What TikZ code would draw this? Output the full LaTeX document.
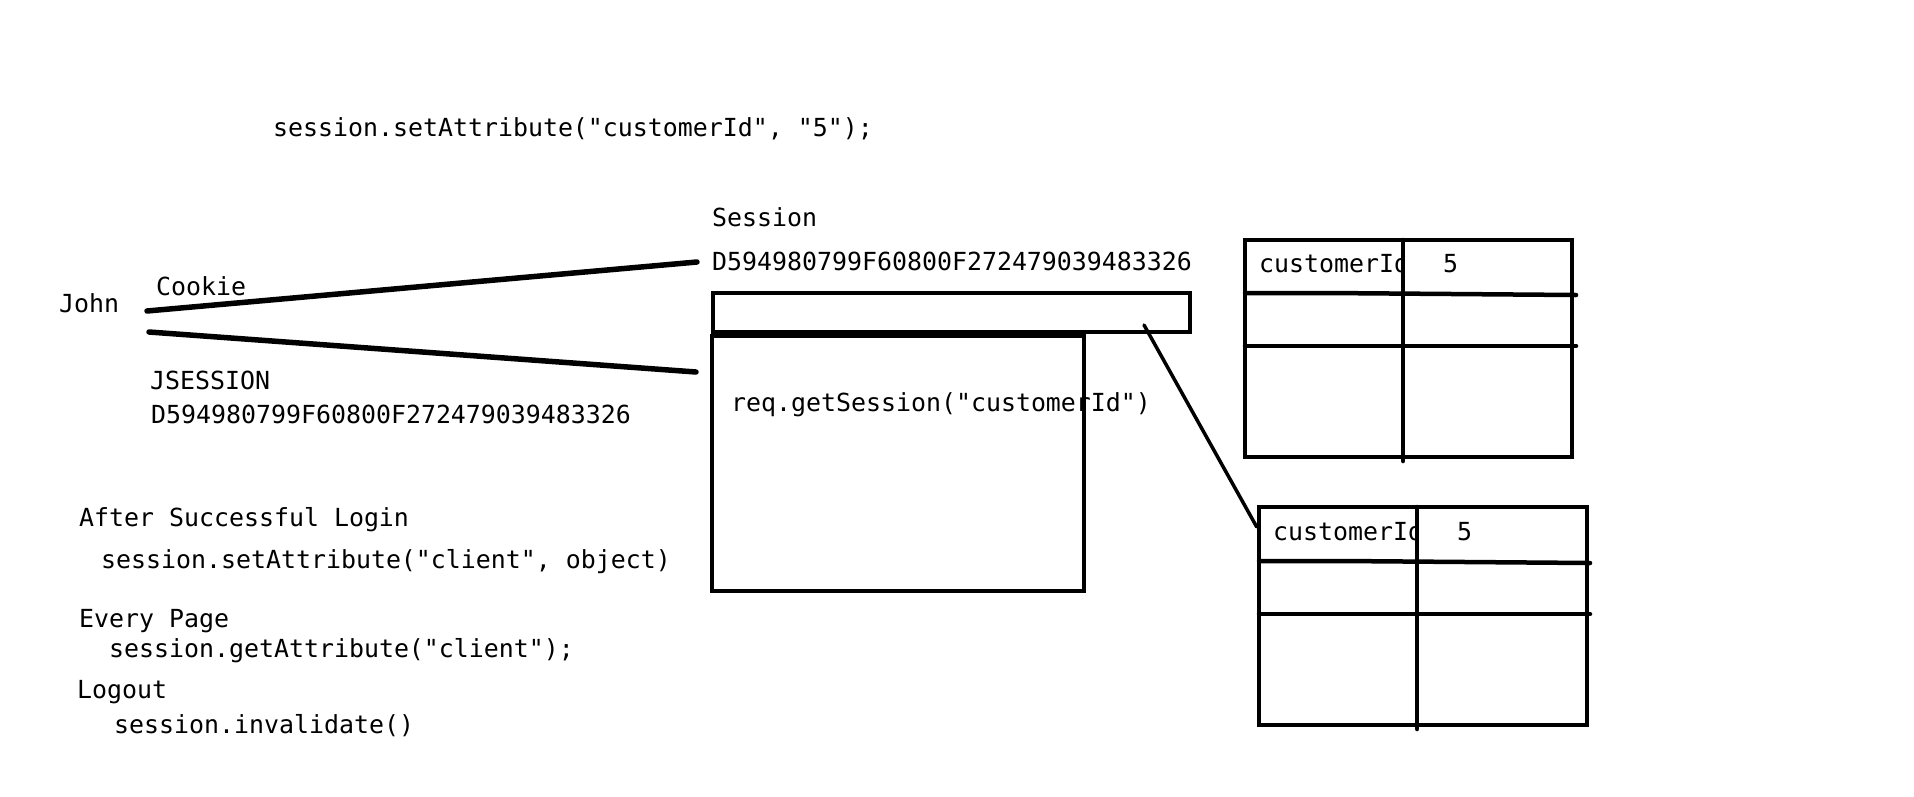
\documentclass[tikz,border=0pt]{standalone}
\usepackage{fontspec}
\setmonofont{DejaVu Sans Mono}
\begin{document}
\begin{tikzpicture}[x=1pt,y=-1pt,
  txt/.style={font=\fontsize{24.9}{30}\selectfont\ttfamily, inner sep=0pt, anchor=base west},
  box/.style={draw, line width=4.5pt, inner sep=0pt},
  link/.style={line width=5.5pt, line cap=round},
  thin/.style={line width=3.5pt, line cap=round},
  grid/.style={line width=4.5pt, line cap=round}]
\useasboundingbox[fill=white] (0,0) rectangle (1914,796);

% texts
\node[txt] (top) at (273,136) {session.setAttribute("customerId", "5");};
\node[txt] (sess) at (712,226) {Session};
\node[txt] (sid) at (712,270) {D594980799F60800F272479039483326};
\node[txt] (john) at (59,312) {John};
\node[txt] (cookie) at (156,295) {Cookie};
\node[txt] (jsess) at (150,389) {JSESSION};
\node[txt] (jid) at (151,423) {D594980799F60800F272479039483326};
\node[txt] (after) at (79,526) {After Successful Login};
\node[txt] (setc) at (101,568) {session.setAttribute("client", object)};
\node[txt] (every) at (79,627) {Every Page};
\node[txt] (getc) at (109,657) {session.getAttribute("client");};
\node[txt] (logout) at (77,698) {Logout};
\node[txt] (inval) at (114,733) {session.invalidate()};

% session boxes
\node[box, minimum width=477pt, minimum height=39pt] (bar) at (951.5,312.5) {};
\node[box, minimum width=372pt, minimum height=255pt] (big) at (898,463.5) {};
\node[txt] (req) at (731,411) {req.getSession("customerId")};

% cookie lines
\coordinate (c1a) at (147,311);
\coordinate (c1b) at (697,262);
\coordinate (c2a) at (149,332);
\coordinate (c2b) at (696,372);
\draw[link] (c1a) -- (c1b);
\draw[link] (c2a) -- (c2b);

% table 1
\node[box, minimum width=327pt, minimum height=217pt] (t1) at (1408.5,348.5) {};
\begin{scope}
\clip (1245,240) rectangle (1401,292);
\node[txt] (t1k) at (1259,272) {customerId};
\end{scope}
\node[txt] (t1v) at (1443,272) {5};
\draw[grid] (1403,240) -- (1403,461);
\draw[grid] (1245,293) -- (1328,293) -- (1576,295);
\draw[grid] (1245,346) -- (1576,346);

% table 2
\node[box, minimum width=328pt, minimum height=218pt] (t2) at (1423,616) {};
\begin{scope}
\clip (1259,507) rectangle (1415,560);
\node[txt] (t2k) at (1273,540) {customerId};
\end{scope}
\node[txt] (t2v) at (1457,540) {5};
\draw[grid] (1417,507) -- (1417,729);
\draw[grid] (1259,561) -- (1342,561) -- (1590,563);
\draw[grid] (1259,614) -- (1590,614);

% link from bar to table 2
\coordinate (d1) at (1144,325);
\draw[thin] (d1) -- (t2.north west |- 0,527);
\end{tikzpicture}
\end{document}
